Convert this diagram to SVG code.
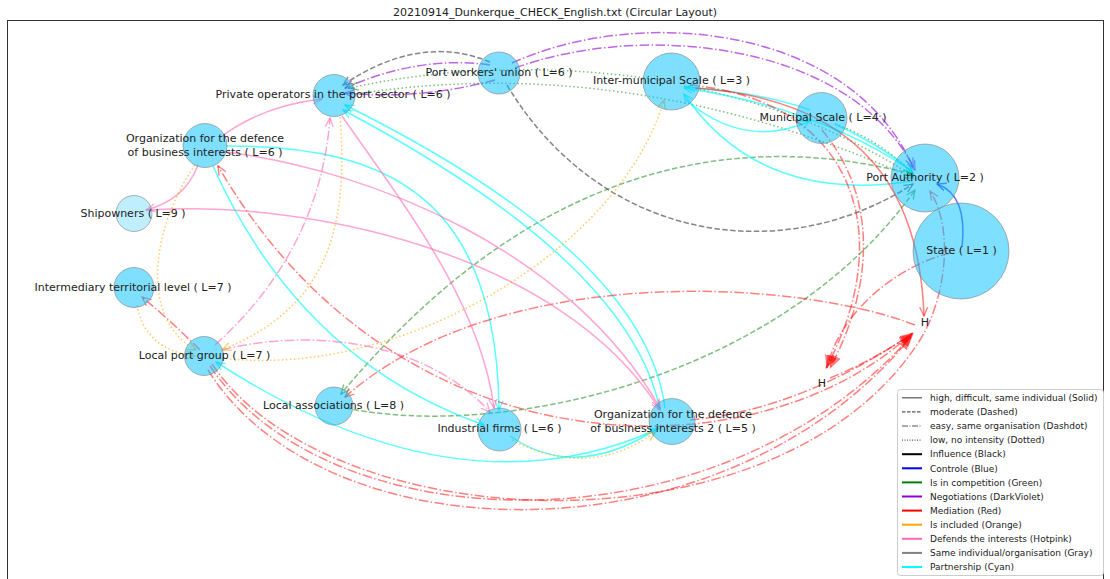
<svg xmlns="http://www.w3.org/2000/svg" width="1110" height="579" viewBox="0 0 1110 579">
<style>
.e{fill:none;stroke-width:1.5}
.da{stroke-dasharray:5.5 2.4}
.dd{stroke-dasharray:9.6 2.4 1.5 2.4}
.dt{stroke-dasharray:1.5 2.5}
.gy{stroke:#707070;stroke-opacity:.85}
.pu{stroke:#9400d3;stroke-opacity:.6}
.gr{stroke:#008000;stroke-opacity:.5}
.cy{stroke:#00ffff;stroke-opacity:.65}
.rd{stroke:#ff0000;stroke-opacity:.5}
.bl{stroke:#0000ff;stroke-opacity:.6}
.pk{stroke:#ff69b4;stroke-opacity:.6}
.or{stroke:#ffa500;stroke-opacity:.6}
.node circle{fill:#00bfff;fill-opacity:.5;stroke:#808080;stroke-opacity:.6;stroke-width:1}
.lb{font-family:"DejaVu Sans",sans-serif;font-size:11px;fill:#222;text-anchor:middle}
.lg{font-family:"DejaVu Sans",sans-serif;font-size:9px;fill:#222}
.ll{stroke-width:2}
</style>
<defs>
<marker id="agy" viewBox="0 0 10 10" refX="9" refY="5" markerWidth="10" markerHeight="10" markerUnits="userSpaceOnUse" orient="auto"><path d="M0,1 L9,5 L0,9" fill="none" stroke="#707070" stroke-opacity=".85" stroke-width="1.3"/></marker>
<marker id="apu" viewBox="0 0 10 10" refX="9" refY="5" markerWidth="10" markerHeight="10" markerUnits="userSpaceOnUse" orient="auto"><path d="M0,1 L9,5 L0,9" fill="none" stroke="#9400d3" stroke-opacity=".6" stroke-width="1.3"/></marker>
<marker id="agr" viewBox="0 0 10 10" refX="9" refY="5" markerWidth="10" markerHeight="10" markerUnits="userSpaceOnUse" orient="auto"><path d="M0,1 L9,5 L0,9" fill="none" stroke="#008000" stroke-opacity=".5" stroke-width="1.3"/></marker>
<marker id="acy" viewBox="0 0 10 10" refX="9" refY="5" markerWidth="10" markerHeight="10" markerUnits="userSpaceOnUse" orient="auto"><path d="M0,1 L9,5 L0,9" fill="none" stroke="#00ffff" stroke-opacity=".65" stroke-width="1.3"/></marker>
<marker id="ard" viewBox="0 0 10 10" refX="9" refY="5" markerWidth="10" markerHeight="10" markerUnits="userSpaceOnUse" orient="auto"><path d="M0,1 L9,5 L0,9" fill="none" stroke="#ff0000" stroke-opacity=".5" stroke-width="1.3"/></marker>
<marker id="abl" viewBox="0 0 10 10" refX="9" refY="5" markerWidth="10" markerHeight="10" markerUnits="userSpaceOnUse" orient="auto"><path d="M0,1 L9,5 L0,9" fill="none" stroke="#0000ff" stroke-opacity=".6" stroke-width="1.3"/></marker>
<marker id="apk" viewBox="0 0 10 10" refX="9" refY="5" markerWidth="10" markerHeight="10" markerUnits="userSpaceOnUse" orient="auto"><path d="M0,1 L9,5 L0,9" fill="none" stroke="#ff69b4" stroke-opacity=".6" stroke-width="1.3"/></marker>
<marker id="aor" viewBox="0 0 10 10" refX="9" refY="5" markerWidth="10" markerHeight="10" markerUnits="userSpaceOnUse" orient="auto"><path d="M0,1 L9,5 L0,9" fill="none" stroke="#ffa500" stroke-opacity=".6" stroke-width="1.3"/></marker>
<marker id="trd" viewBox="0 0 14 10" refX="13" refY="5" markerWidth="14" markerHeight="10" markerUnits="userSpaceOnUse" orient="auto"><path d="M0,0 L14,5 L0,10 Z" fill="#ff0000" fill-opacity=".5"/></marker>
</defs>
<rect width="1110" height="579" fill="#fff"/>
<text x="555" y="16" class="lb" font-size="11.5">20210914_Dunkerque_CHECK_English.txt (Circular Layout)</text>
<rect x="7.5" y="20.5" width="1096" height="570" fill="none" stroke="#333" stroke-width="1"/>
<g id="edges">
<!-- gray -->
<path class="e da gy" d="M490,62 Q420,33 343,85" marker-end="url(#agy)"/>
<path class="e da gy" d="M507,85 C600,240 780,270 913,184" marker-end="url(#agy)"/>
<!-- purple -->
<path class="e dd pu" d="M490,65 Q420,55 345,88" marker-end="url(#apu)"/>
<path class="e dd pu" d="M495,80 Q420,100 345,93" marker-end="url(#apu)"/>
<path class="e dd pu" d="M512,63 C640,5 850,25 913,167" marker-end="url(#apu)"/>
<path class="e dd pu" d="M515,68 C640,22 850,40 915,170" marker-end="url(#apu)"/>
<!-- green dotted -->
<path class="e dt gr" d="M660,80 Q497,56 349,88" marker-end="url(#agr)"/>
<path class="e dt gr" d="M350,95 Q628,50 913,178" marker-end="url(#agr)"/>
<path class="e dt gr" d="M684,86 Q810,110 913,176" marker-end="url(#agr)"/>
<path class="e dt gr" d="M835,124 Q880,140 913,174" marker-end="url(#agr)"/>
<!-- green dashed -->
<path class="e da gr" d="M912,174 C780,140 560,130 341,394" marker-end="url(#agr)"/>
<path class="e da gr" d="M346,408 C500,440 780,380 915,190" marker-end="url(#agr)"/>
<!-- cyan -->
<path class="e cy" d="M665,408 Q645,254 345,105" marker-end="url(#acy)"/>
<path class="e cy" d="M660,410 Q630,262 343,110" marker-end="url(#acy)"/>
<path class="e cy" d="M226,146 C390,145 497,200 499,410" marker-end="url(#acy)"/>
<path class="e cy" d="M213,166 Q300,360 484,425" marker-end="url(#acy)"/>
<path class="e cy" d="M660,428 Q460,520 216,362" marker-end="url(#acy)"/>
<path class="e cy" d="M510,436 Q576,482 658,428" marker-end="url(#acy)"/>
<path class="e cy" d="M686,100 Q745,150 810,121" marker-end="url(#acy)"/>
<path class="e cy" d="M810,110 Q760,92 686,87" marker-end="url(#acy)"/>
<path class="e cy" d="M913,172 Q820,108 684,88" marker-end="url(#acy)"/>
<path class="e cy" d="M913,181 Q760,205 684,94" marker-end="url(#acy)"/>
<path class="e cy" d="M835,124 Q882,146 913,172" marker-end="url(#acy)"/>
<!-- red -->
<path class="e dd rd" d="M690,85 C850,100 900,230 826,368" marker-end="url(#trd)"/>
<path class="e dd rd" d="M822,130 C880,200 872,290 830,368" marker-end="url(#trd)"/>
<path class="e rd" d="M695,88 C870,100 920,200 924,316" marker-end="url(#ard)"/>
<path class="e dd rd" d="M950,253 C900,265 840,310 827,368" marker-end="url(#trd)"/>
<path class="e dd rd" d="M830,378 Q870,362 912,334" marker-end="url(#trd)"/>
<path class="e dd rd" d="M690,420 Q800,410 913,333" marker-end="url(#trd)"/>
<path class="e dd rd" d="M912,333 C760,475 400,480 218,166" marker-end="url(#ard)"/>
<path class="e dd rd" d="M915,325 C800,280 500,260 345,397" marker-end="url(#ard)"/>
<path class="e dd rd" d="M200,350 Q170,320 142,297" marker-end="url(#ard)"/>
<path class="e dd rd" d="M210,366 C330,545 720,555 913,334" marker-end="url(#trd)"/>
<path class="e dd rd" d="M208,370 C325,558 725,565 911,337" marker-end="url(#trd)"/>
<path class="e dd rd" d="M212,364 C330,540 780,560 920,340 C945,300 955,230 930,191" marker-end="url(#ard)"/>
<!-- blue -->
<path class="e bl" d="M962,247 Q968,195 937,184" marker-end="url(#abl)"/>
<!-- pink -->
<path class="e pk" d="M222,136 Q265,105 322,99" marker-end="url(#apk)"/>
<path class="e pk" d="M198,165 Q185,200 146,210" marker-end="url(#apk)"/>
<path class="e pk" d="M150,210 C300,200 560,250 660,410" marker-end="url(#apk)"/>
<path class="e pk" d="M226,152 C370,170 570,250 660,408" marker-end="url(#apk)"/>
<path class="e pk" d="M342,116 C400,200 480,300 494,408" marker-end="url(#apk)"/>
<path class="e dd pk" d="M215,345 Q320,250 330,118" marker-end="url(#apk)"/>
<path class="e dd pk" d="M222,350 C300,330 420,335 490,412" marker-end="url(#apk)"/>
<!-- orange -->
<path class="e dt or" d="M195,165 C150,230 140,320 196,350" marker-end="url(#aor)"/>
<path class="e dt or" d="M137,305 Q145,350 195,356" marker-end="url(#aor)"/>
<path class="e dt or" d="M340,117 C350,240 320,310 222,350" marker-end="url(#aor)"/>
<path class="e dt or" d="M222,358 C400,380 620,250 664,100" marker-end="url(#aor)"/>
<path class="e dt or" d="M512,440 Q590,480 655,432" marker-end="url(#aor)"/>
</g>
<g id="n-pw" class="node"><circle cx="499" cy="73" r="21"/><text class="lb" x="499" y="76">Port workers' union ( L=6 )</text></g>
<g id="n-po" class="node"><circle cx="334" cy="95.5" r="21"/><text class="lb" x="333" y="98">Private operators in the port sector ( L=6 )</text></g>
<g id="n-od1" class="node"><circle cx="205" cy="145.5" r="22"/><text class="lb" x="205" y="142">Organization for the defence</text><text class="lb" x="205" y="156">of business interests ( L=6 )</text></g>
<g id="n-sh" class="node"><circle cx="134" cy="213.5" r="18" style="fill-opacity:.25"/><text class="lb" x="133" y="217">Shipowners ( L=9 )</text></g>
<g id="n-itl" class="node"><circle cx="134" cy="287.5" r="20"/><text class="lb" x="133" y="291">Intermediary territorial level ( L=7 )</text></g>
<g id="n-lpg" class="node"><circle cx="204" cy="356" r="19.5"/><text class="lb" x="204.5" y="359">Local port group ( L=7 )</text></g>
<g id="n-la" class="node"><circle cx="334" cy="406" r="19"/><text class="lb" x="333.5" y="409">Local associations ( L=8 )</text></g>
<g id="n-if" class="node"><circle cx="499.5" cy="429.5" r="21.5"/><text class="lb" x="499.5" y="432">Industrial firms ( L=6 )</text></g>
<g id="n-od2" class="node"><circle cx="672" cy="421.5" r="23"/><text class="lb" x="673" y="418">Organization for the defence</text><text class="lb" x="673" y="432">of business interests 2 ( L=5 )</text></g>
<g id="n-ims" class="node"><circle cx="671.5" cy="81.5" r="28.5"/><text class="lb" x="671.5" y="84">Inter-municipal Scale ( L=3 )</text></g>
<g id="n-ms" class="node"><circle cx="821.5" cy="118" r="25.5"/><text class="lb" x="823" y="121">Municipal Scale ( L=4 )</text></g>
<g id="n-pa" class="node"><circle cx="925" cy="178" r="34"/><text class="lb" x="925" y="181">Port Authority ( L=2 )</text></g>
<g id="n-st" class="node"><circle cx="961" cy="251" r="48"/><text class="lb" x="961.5" y="254">State ( L=1 )</text></g>
<text class="lb" x="925" y="326">H</text>
<text class="lb" x="822" y="387">H</text>
<g id="legend">
<rect x="897.5" y="389.5" width="206" height="186" rx="3" fill="#fff" fill-opacity=".85" stroke="#ccc"/>
<line x1="902" y1="397.8" x2="922" y2="397.8" stroke="#555" stroke-width="1.2"/>
<line x1="902" y1="411.9" x2="922" y2="411.9" stroke="#555" stroke-width="1.2" stroke-dasharray="3.5 1.5"/>
<line x1="902" y1="426" x2="922" y2="426" stroke="#555" stroke-width="1.2" stroke-dasharray="6 1.5 1 1.5"/>
<line x1="902" y1="440.1" x2="922" y2="440.1" stroke="#555" stroke-width="1.2" stroke-dasharray="1 1.5"/>
<line class="ll" x1="902" y1="454.2" x2="922" y2="454.2" stroke="#000"/>
<line class="ll" x1="902" y1="468.3" x2="922" y2="468.3" stroke="#0000ff"/>
<line class="ll" x1="902" y1="482.4" x2="922" y2="482.4" stroke="#008000"/>
<line class="ll" x1="902" y1="496.5" x2="922" y2="496.5" stroke="#9400d3"/>
<line class="ll" x1="902" y1="510.6" x2="922" y2="510.6" stroke="#ff0000"/>
<line class="ll" x1="902" y1="524.7" x2="922" y2="524.7" stroke="#ffa500"/>
<line class="ll" x1="902" y1="538.8" x2="922" y2="538.8" stroke="#ff69b4"/>
<line class="ll" x1="902" y1="552.9" x2="922" y2="552.9" stroke="#808080"/>
<line class="ll" x1="902" y1="567" x2="922" y2="567" stroke="#00ffff"/>
<text class="lg" x="930" y="401">high, difficult, same individual (Solid)</text>
<text class="lg" x="930" y="415.1">moderate (Dashed)</text>
<text class="lg" x="930" y="429.2">easy, same organisation (Dashdot)</text>
<text class="lg" x="930" y="443.3">low, no intensity (Dotted)</text>
<text class="lg" x="930" y="457.4">Influence (Black)</text>
<text class="lg" x="930" y="471.5">Controle (Blue)</text>
<text class="lg" x="930" y="485.6">Is in competition (Green)</text>
<text class="lg" x="930" y="499.7">Negotiations (DarkViolet)</text>
<text class="lg" x="930" y="513.8">Mediation (Red)</text>
<text class="lg" x="930" y="527.9">Is included (Orange)</text>
<text class="lg" x="930" y="542">Defends the interests (Hotpink)</text>
<text class="lg" x="930" y="556.1">Same individual/organisation (Gray)</text>
<text class="lg" x="930" y="570.2">Partnership (Cyan)</text>
</g>
</svg>
